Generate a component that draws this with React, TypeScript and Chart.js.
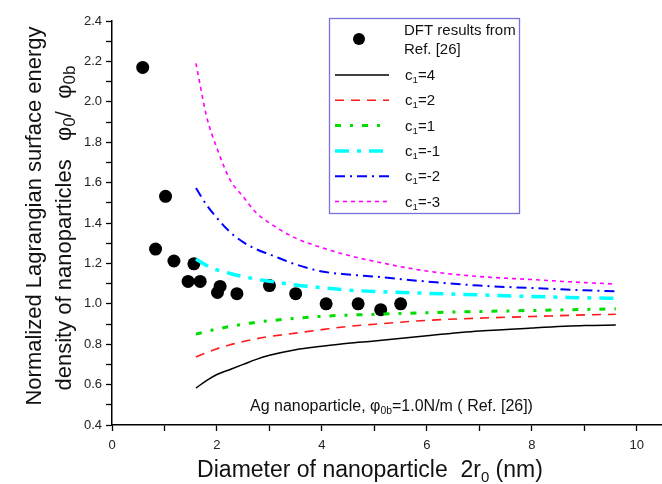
import { useEffect, useRef } from "react";
import { Chart, registerables } from "chart.js";
Chart.register(...registerables);

// ---- data ----
const dftDiameter = [0.585, 0.83, 1.02, 1.18, 1.45, 1.56, 1.68, 2.01, 2.06, 2.38, 3.0, 3.5, 4.08, 4.69, 5.12, 5.5];
const dftEnergy = [2.17, 1.271, 1.532, 1.212, 1.111, 1.198, 1.111, 1.056, 1.086, 1.05, 1.09, 1.05, 1.0, 1.0, 0.971, 1.0];

const curveDiameter = [1.6, 1.8, 2.0, 2.25, 2.5, 2.75, 3.0, 3.5, 4.0, 4.5, 5.0, 6.0, 7.0, 8.0, 9.0, 9.6];
const c1Plus4 = [0.583, 0.62, 0.65, 0.675, 0.7, 0.725, 0.745, 0.773, 0.79, 0.805, 0.816, 0.842, 0.865, 0.88, 0.892, 0.895];
const c1Plus2 = [0.737, 0.758, 0.778, 0.797, 0.813, 0.827, 0.838, 0.855, 0.872, 0.888, 0.899, 0.918, 0.929, 0.937, 0.945, 0.948];
const c1Plus1 = [0.85, 0.863, 0.875, 0.888, 0.899, 0.909, 0.916, 0.928, 0.938, 0.944, 0.948, 0.956, 0.962, 0.967, 0.972, 0.975];
const c1Minus1 = [1.222, 1.19, 1.168, 1.15, 1.135, 1.122, 1.112, 1.093, 1.08, 1.068, 1.061, 1.052, 1.044, 1.036, 1.03, 1.027];
const c1Minus2 = [1.573, 1.49, 1.425, 1.355, 1.305, 1.27, 1.245, 1.195, 1.16, 1.145, 1.135, 1.11, 1.09, 1.078, 1.067, 1.062];
const c1Minus3 = [2.19, 1.93, 1.77, 1.614, 1.53, 1.45, 1.4, 1.325, 1.278, 1.24, 1.21, 1.162, 1.135, 1.12, 1.105, 1.098];

const seriesLabels = ["c1=4", "c1=2", "c1=1", "c1=-1", "c1=-2", "c1=-3"];
const xTickLabels = ["0", "2", "4", "6", "8", "10"];
const yTickLabels = ["0.4", "0.6", "0.8", "1.0", "1.2", "1.4", "1.6", "1.8", "2.0", "2.2", "2.4"];

const FONT = '"Liberation Sans", Arial, Helvetica, sans-serif';

type Part = { t: string; sub?: boolean };

function drawRich(ctx: CanvasRenderingContext2D, parts: Part[], x: number, y: number, size: number, align: "left" | "center", subScale = 0.65) {
  const subSize = size * subScale;
  let total = 0;
  for (const p of parts) {
    ctx.font = `${p.sub ? subSize : size}px ${FONT}`;
    total += ctx.measureText(p.t).width;
  }
  let cx = align === "center" ? x - total / 2 : x;
  ctx.textAlign = "left";
  ctx.textBaseline = "alphabetic";
  for (const p of parts) {
    ctx.font = `${p.sub ? subSize : size}px ${FONT}`;
    ctx.fillText(p.t, cx, y + (p.sub ? size * 0.2 : 0));
    cx += ctx.measureText(p.t).width;
  }
}

function labelParts(label: string): Part[] {
  return [{ t: label.charAt(0) }, { t: label.charAt(1), sub: true }, { t: label.slice(2) }];
}

const decorPlugin = {
  id: "decor",
  afterDraw(chart: any) {
    const ctx: CanvasRenderingContext2D = chart.ctx;
    ctx.save();
    ctx.fillStyle = "#111";

    // Y axis title (two lines, rotated)
    ctx.save();
    ctx.translate(41, 216);
    ctx.rotate(-Math.PI / 2);
    drawRich(ctx, [{ t: "Normalized Lagrangian surface energy" }], 0, 0, 22, "center");
    ctx.restore();
    ctx.save();
    ctx.translate(71, 228);
    ctx.rotate(-Math.PI / 2);
    drawRich(
      ctx,
      [
        { t: "density of nanoparticles   \u03c6" },
        { t: "0", sub: true },
        { t: "/  \u03c6" },
        { t: "0b", sub: true },
      ],
      0,
      0,
      22,
      "center",
      0.78
    );
    ctx.restore();

    // X axis title
    drawRich(
      ctx,
      [{ t: "Diameter of nanoparticle  2r" }, { t: "0", sub: true }, { t: " (nm)" }],
      370,
      477,
      23,
      "center"
    );

    // annotation
    drawRich(
      ctx,
      [{ t: "Ag nanoparticle, \u03c6" }, { t: "0b", sub: true }, { t: "=1.0N/m ( Ref. [26])" }],
      250,
      411,
      16,
      "left"
    );

    // legend box
    const bx = 329.5, by = 18.5, bw = 190, bh = 195;
    ctx.fillStyle = "#ffffff";
    ctx.fillRect(bx, by, bw, bh);
    ctx.strokeStyle = "#7474dc";
    ctx.lineWidth = 1.3;
    ctx.strokeRect(bx, by, bw, bh);

    const ds = chart.data.datasets;
    const sc = ds[ds.length - 1];
    ctx.fillStyle = sc.backgroundColor;
    ctx.beginPath();
    ctx.arc(359, 39, 6, 0, Math.PI * 2);
    ctx.fill();
    ctx.fillStyle = "#111";
    drawRich(ctx, [{ t: "DFT results from" }], 404, 35, 15, "left");
    drawRich(ctx, [{ t: "Ref. [26]" }], 404, 54, 15, "left");

    for (let i = 0; i < seriesLabels.length; i++) {
      const d = ds[i];
      const yy = 75 + i * 25.3;
      ctx.save();
      ctx.strokeStyle = d.borderColor;
      ctx.lineWidth = d.borderWidth;
      ctx.setLineDash(d.borderDash || []);
      ctx.beginPath();
      ctx.moveTo(335, yy);
      ctx.lineTo(389, yy);
      ctx.stroke();
      ctx.restore();
      ctx.fillStyle = "#111";
      drawRich(ctx, labelParts(seriesLabels[i]), 405, yy + 5, 15, "left");
    }
    ctx.restore();
  },
};

function line(data: number[], color: string, width: number, dash: number[]) {
  return {
    type: "scatter" as const,
    data: curveDiameter.map((x, i) => ({ x, y: data[i] })),
    showLine: true,
    borderColor: color,
    backgroundColor: color,
    borderWidth: width,
    borderDash: dash,
    pointRadius: 0,
    cubicInterpolationMode: "monotone" as const,
    order: 0,
  };
}

export default function App() {
  const ref = useRef<HTMLCanvasElement | null>(null);
  useEffect(() => {
    document.body.style.margin = "0";
    const canvas = ref.current!;
    const chart = new Chart(canvas, {
      type: "scatter",
      data: {
        datasets: [
          line(c1Plus4, "#000000", 1.5, []),
          line(c1Plus2, "#ff1a1a", 1.6, [9, 7]),
          line(c1Plus1, "#00dd00", 3, [6, 9, 3, 9]),
          line(c1Minus1, "#00ffff", 3.5, [14, 8, 4, 8]),
          line(c1Minus2, "#0000ff", 2, [10, 5, 2, 5]),
          line(c1Minus3, "#ff00ff", 1.6, [4, 4]),
          {
            type: "scatter" as const,
            data: dftDiameter.map((x, i) => ({ x, y: dftEnergy[i] })),
            backgroundColor: "#000000",
            borderColor: "#000000",
            pointRadius: 6.5,
            pointBorderWidth: 0,
            order: 10,
          } as any,
        ],
      },
      options: {
        animation: false,
        responsive: false,
        devicePixelRatio: 1,
        layout: { autoPadding: false, padding: { top: 21, right: 0, left: 0, bottom: 0 } },
        plugins: { legend: { display: false }, tooltip: { enabled: false } },
        scales: {
          x: {
            type: "linear",
            min: 0,
            max: 10.48,
            afterFit: (s: any) => {
              s.height = 59;
              s.paddingRight = 0;
              s.paddingLeft = 0;
            },
            border: { display: true, color: "#000", width: 1.5 },
            grid: { display: true, drawOnChartArea: false, drawTicks: true, tickLength: 6, tickColor: "#000", tickWidth: 1.3 },
            ticks: {
              stepSize: 1,
              includeBounds: false,
              maxRotation: 0,
              autoSkip: false,
              padding: 7,
              color: "#222",
              font: { family: FONT, size: 13 },
              callback: (v: any) => {
                const s = String(Math.round(Number(v)));
                return xTickLabels.includes(s) ? s : "";
              },
            },
          },
          y: {
            type: "linear",
            min: 0.4,
            max: 2.4,
            afterFit: (s: any) => {
              s.width = 112;
              s.paddingTop = 0;
              s.paddingBottom = 0;
            },
            border: { display: true, color: "#000", width: 1.5 },
            grid: { display: true, drawOnChartArea: false, drawTicks: true, tickLength: 6, tickColor: "#000", tickWidth: 1.3 },
            ticks: {
              stepSize: 0.1,
              includeBounds: false,
              autoSkip: false,
              padding: 4,
              color: "#222",
              font: { family: FONT, size: 13 },
              callback: (v: any) => {
                const s = Number(v).toFixed(1);
                return yTickLabels.includes(s) && Math.round(Number(v) * 10) % 2 === 0 ? s : "";
              },
            },
          },
        },
      },
      plugins: [decorPlugin],
    });
    return () => chart.destroy();
  }, []);
  return (
    <div style={{ position: "absolute", left: 0, top: 0, width: 662, height: 484 }}>
      <canvas ref={ref} width={662} height={484} style={{ width: 662, height: 484, display: "block" }} />
    </div>
  );
}
